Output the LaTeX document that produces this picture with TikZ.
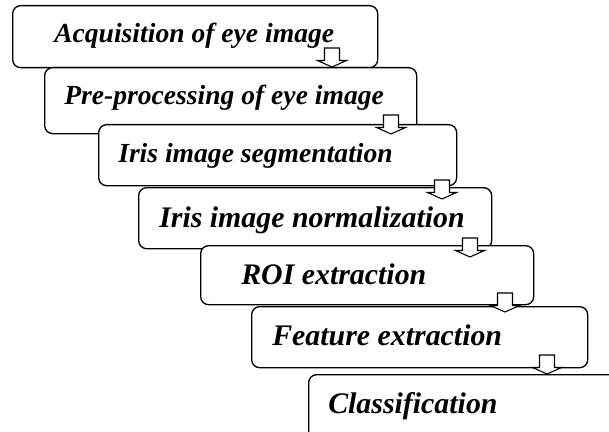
\documentclass[tikz,border=0pt]{standalone}
\usepackage{fontspec}
\setmainfont{Liberation Serif}

\tikzset{
  stepbox/.style={draw, line width=1pt, rounded corners=6pt, fill=white, anchor=north west, inner sep=0pt},
  steptext/.style={anchor=base west, inner sep=0pt, font=\fontsize{#1}{#1}\selectfont\bfseries\itshape},
  steptext/.default=20.7,
  downarrow/.pic={\draw[fill=white, line width=0.8pt] (-7.5,0) -- (7.5,0) -- (7.5,12.5) -- (14.5,12.5) -- (0,19) -- (-14.5,12.5) -- (-7.5,12.5) -- cycle;}
}

\begin{document}
\begin{tikzpicture}[x=0.75pt,y=-0.75pt]
\useasboundingbox (0,0) rectangle (609,431);
\fill[white] (0,0) rectangle (609,431);
\clip (0,0) rectangle (609,431);
% acquisition
  \node[stepbox, minimum width={365*0.75pt}, minimum height={62*0.75pt}] (acq) at (12,5) {};
  \node[steptext] (acqtxt) at (54,43) {Acquisition of eye image};
% pre-processing
  \node[stepbox, minimum width={372*0.75pt}, minimum height={66*0.75pt}] (pre) at (44,67) {};
  \node[steptext] (pretxt) at (64,105) {Pre-processing of eye image};
  \pic (acqpre) at (332,48) {downarrow};
% segmentation
  \node[stepbox, minimum width={358*0.75pt}, minimum height={61*0.75pt}] (seg) at (98,124) {};
  \node[steptext] (segtxt) at (118,162) {Iris image segmentation};
  \pic (preseg) at (391,115) {downarrow};
% normalization
  \node[stepbox, minimum width={353*0.75pt}, minimum height={61*0.75pt}] (nor) at (138,187) {};
  \node[steptext=22.4] (nortxt) at (159,227) {Iris image normalization};
  \pic (segnor) at (442,180) {downarrow};
% roi
  \node[stepbox, minimum width={333*0.75pt}, minimum height={59*0.75pt}] (roi) at (200,245) {};
  \node[steptext=22.4] (roitxt) at (241,284) {ROI extraction};
  \pic (norroi) at (470,238) {downarrow};
% features
  \node[stepbox, minimum width={336*0.75pt}, minimum height={61*0.75pt}] (fea) at (251,306) {};
  \node[steptext=22.4] (featxt) at (272,345) {Feature extraction};
  \pic (roifea) at (505,293) {downarrow};
% classification
  \node[stepbox, minimum width={320*0.75pt}, minimum height={70*0.75pt}] (cla) at (308,374) {};
  \node[steptext=22.4] (clatxt) at (328,413) {Classification};
  \pic (feacla) at (547,355) {downarrow};
\end{tikzpicture}
\end{document}
